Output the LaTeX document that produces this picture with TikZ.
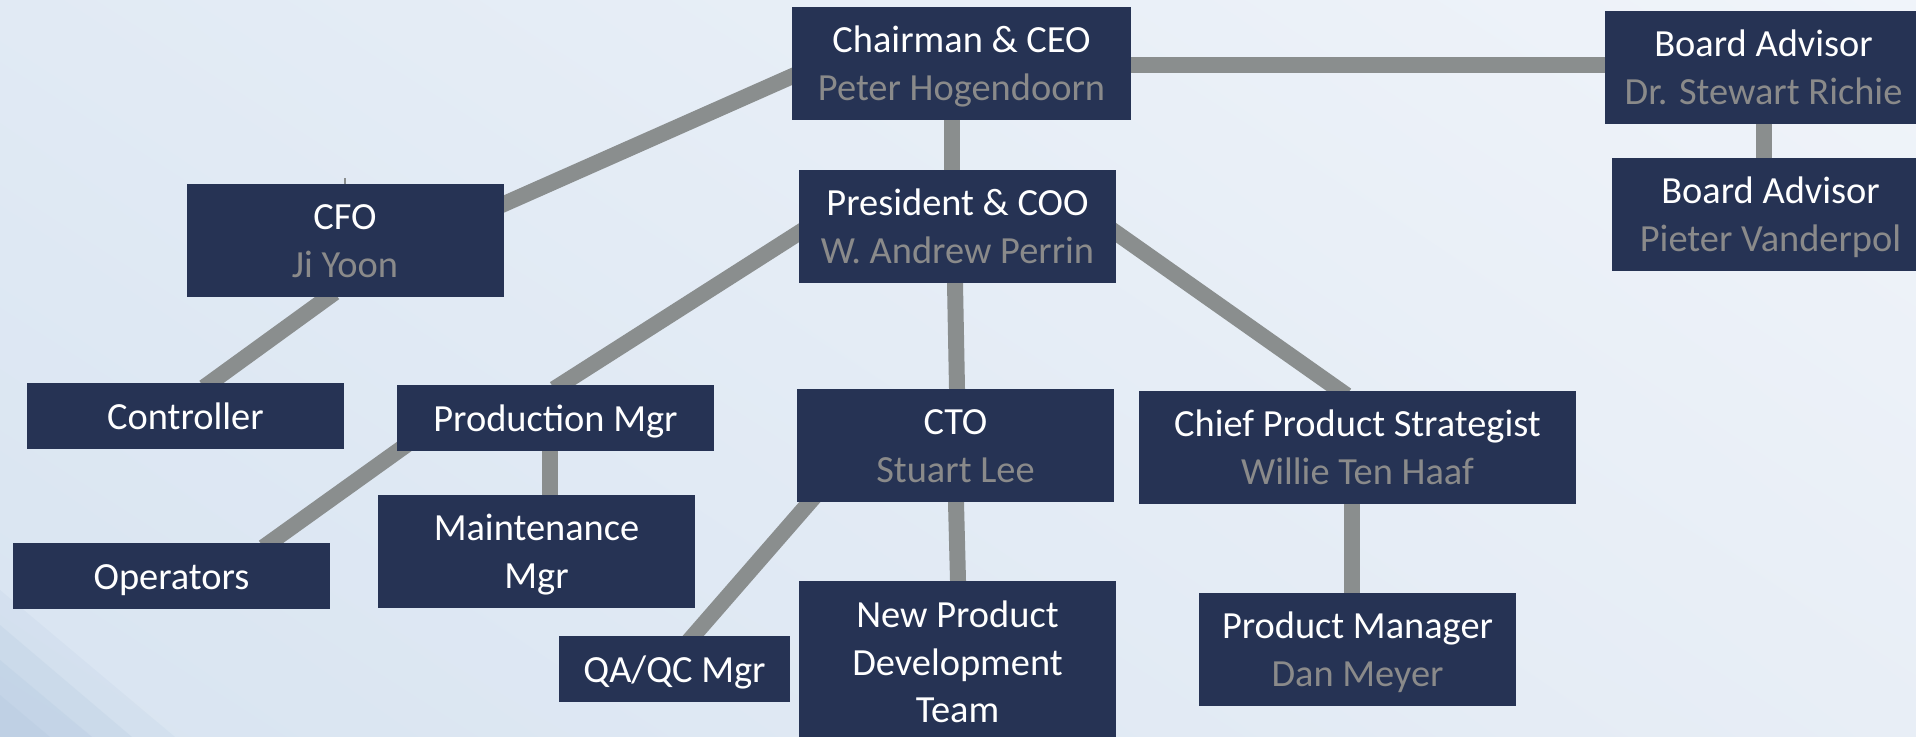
\documentclass[tikz,border=0pt]{standalone}
\usepackage{fontspec}
\setmainfont{Carlito}
\usetikzlibrary{calc,shadings}
\pgfdeclarelayer{bg}
\pgfdeclarelayer{back}
\pgfsetlayers{bg,back,main}
\definecolor{boxfill}{HTML}{263354}
\definecolor{namegray}{HTML}{8A8A8A}
\definecolor{linkgray}{HTML}{8A8E8E}
\definecolor{bgUL}{HTML}{E1EAF4}
\definecolor{bgUR}{HTML}{F0F4FA}
\definecolor{bgLL}{HTML}{D8E4F1}
\definecolor{bgLR}{HTML}{E8EEF6}
\definecolor{stripe}{HTML}{A9C2DA}
\newcommand{\orgstrut}{\rule[-5.3pt]{0pt}{23.8pt}}
\newcommand{\who}[1]{\orgstrut\textcolor{namegray}{#1}}
\newcommand{\tl}[1]{\orgstrut#1}
\tikzset{
  orgbox/.style={fill=boxfill, draw=none, text=white, inner sep=0pt,
    align=center, font=\fontsize{19.2}{23.8}\selectfont},
  link/.style={draw=linkgray, line width=8pt, shorten <=-4pt, shorten >=-4pt}
}
\begin{document}
\begin{tikzpicture}[x=0.5pt,y=-0.5pt]
\useasboundingbox (0,0) rectangle (1916,737);
\clip (0,0) rectangle (1916,737);
% background
\begin{pgfonlayer}{bg}
\shade[upper left=bgUL, upper right=bgUR, lower left=bgLL, lower right=bgLR] (0,0) rectangle (1916,737);
\fill[stripe, opacity=0.12] (0,590) -- (0,737) -- (175,737) -- cycle;
\fill[stripe, opacity=0.18] (0,625) -- (0,737) -- (132,737) -- cycle;
\fill[stripe, opacity=0.18] (0,660) -- (0,737) -- (92,737) -- cycle;
\fill[stripe, opacity=0.18] (0,695) -- (0,737) -- (50,737) -- cycle;
\end{pgfonlayer}

% nodes
\node[orgbox, minimum width=169.5pt, minimum height=56.5pt] (chair) at (961.5,63.5) {\tl{Chairman \& CEO}\\\who{Peter Hogendoorn}};
\node[orgbox, minimum width=158.5pt, minimum height=56.5pt] (pres) at (957.5,226.5) {\tl{President \& COO}\\\who{W. Andrew Perrin}};
\node[orgbox, minimum width=158.5pt, minimum height=56.5pt] (cfo) at (345,240.5) {\tl{CFO}\\\who{Ji Yoon}};
\node[orgbox, minimum width=158.5pt, minimum height=56.5pt] (ba1) at (1763.5,67.5) {\tl{Board Advisor}\\\who{Dr. Stewart Richie}};
\node[orgbox, minimum width=158.5pt, minimum height=56.5pt] (ba2) at (1770.5,214.5) {\tl{Board Advisor}\\\who{Pieter Vanderpol}};
\node[orgbox, minimum width=158.5pt, minimum height=33pt] (ctrl) at (185.5,416) {\tl{Controller}};
\node[orgbox, minimum width=158.5pt, minimum height=33pt] (prod) at (555.5,418) {\tl{Production Mgr}};
\node[orgbox, minimum width=158.5pt, minimum height=33pt] (ops) at (171.5,576) {\tl{Operators}};
\node[orgbox, minimum width=158.5pt, minimum height=56.5pt] (maint) at (536.5,551.5) {\tl{Maintenance}\\\tl{Mgr}};
\node[orgbox, minimum width=115.5pt, minimum height=33pt] (qa) at (674.5,669) {\tl{QA/QC Mgr}};
\node[orgbox, minimum width=158.5pt, minimum height=56.5pt] (cto) at (955.5,445.5) {\tl{CTO}\\\who{Stuart Lee}};
\node[orgbox, minimum width=158.5pt, minimum height=81pt] (npd) at (957.5,662) {\tl{New Product}\\\tl{Development}\\\tl{Team}};
\node[orgbox, minimum width=218.5pt, minimum height=56.5pt] (cps) at (1357.5,447.5) {\tl{Chief Product Strategist}\\\who{Willie Ten Haaf}};
\node[orgbox, minimum width=158.5pt, minimum height=56.5pt] (pm) at (1357.5,649.5) {\tl{Product Manager}\\\who{Dan Meyer}};

% connectors (behind the boxes)
\begin{pgfonlayer}{back}
\draw[link] ($(chair.east)+(0,2)$) -- ($(ba1.west)+(0,-2)$);
\draw[link] ($(chair.west)+(0,13)$) -- ($(cfo.east)+(0,-36.5)$);
\draw[link] ($(chair.south)+(-9.5,0)$) -- ($(pres.north)+(-5.5,0)$);
\draw[link] ($(pres.west)+(0,6.5)$) -- ($(prod.north)+(5.5,0)$);
\draw[link] ($(pres.south)+(-2.5,0)$) -- ($(cto.north)+(1.5,0)$);
\draw[link] ($(pres.east)+(0,6.5)$) -- ($(cps.north)+(-17.5,0)$);
\draw[link] ($(cfo.south)+(-17,0)$) -- ($(ctrl.north)+(25,0)$);
\draw[link] ($(prod.center)+(-111.5,0)$) -- ($(ops.north)+(98.5,0)$);
\draw[link] ($(prod.south)+(-6,0)$) -- ($(maint.north)+(13,0)$);
\draw[link] ($(cto.south)+(-146,0)$) -- ($(qa.north)+(19,0)$);
\draw[link] ($(cto.south)+(0.5,0)$) -- ($(npd.north)+(0.5,0)$);
\draw[link] ($(cps.south)+(-5.5,0)$) -- ($(pm.north)+(-5.5,0)$);
\draw[link] ($(ba1.south)+(0.5,0)$) -- ($(ba2.north)+(-6.5,0)$);
\draw[linkgray, line width=1pt] (cfo.north) -- ++(0,-6);
\end{pgfonlayer}
\end{tikzpicture}
\end{document}
